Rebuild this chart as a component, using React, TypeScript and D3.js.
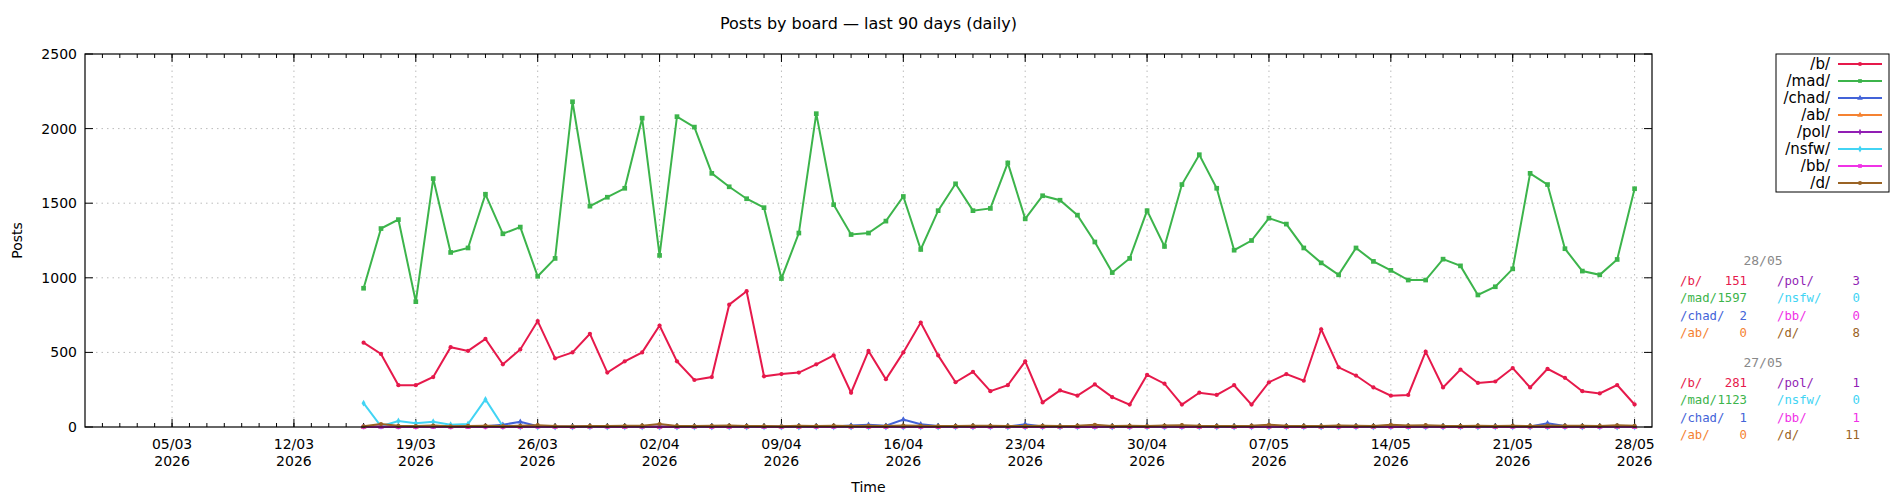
import * as d3 from "d3";

const startDate = new Date(2026, 2, 16);
const domainStart = new Date(2026, 1, 28);
const domainEnd = new Date(2026, 4, 29);

const boards = ["/b/", "/mad/", "/chad/", "/ab/", "/pol/", "/nsfw/", "/bb/", "/d/"];
const colors = ["#e6194b", "#3cb44b", "#4363d8", "#f58231", "#911eb4", "#42d4f4", "#f032e6", "#9a6324"];
const shapes = [d3.symbolCircle, d3.symbolSquare, d3.symbolTriangle, d3.symbolTriangle, d3.symbolCross, d3.symbolDiamond, d3.symbolSquare, d3.symbolCircle];

const bVals = [565, 490, 280, 280, 335, 535, 510, 590, 420, 520, 710, 460, 500, 625, 365, 440, 500, 680, 440, 315, 335, 820, 910, 340, 355, 365, 420, 480, 230, 510, 320, 500, 700, 480, 300, 370, 240, 280, 440, 165, 245, 210, 285, 200, 150, 350, 290, 150, 230, 215, 280, 150, 300, 355, 310, 655, 400, 345, 265, 210, 215, 505, 265, 385, 295, 305, 395, 265, 390, 330, 240, 225, 281, 151];
const madVals = [930, 1330, 1390, 840, 1665, 1170, 1200, 1560, 1295, 1340, 1010, 1130, 2180, 1480, 1540, 1600, 2070, 1150, 2080, 2010, 1700, 1610, 1530, 1470, 995, 1300, 2100, 1490, 1290, 1300, 1380, 1545, 1190, 1450, 1630, 1450, 1465, 1770, 1395, 1550, 1520, 1420, 1240, 1035, 1130, 1450, 1210, 1625, 1825, 1600, 1185, 1250, 1400, 1360, 1200, 1100, 1020, 1200, 1110, 1050, 985, 985, 1125, 1080, 885, 940, 1060, 1700, 1625, 1195, 1045, 1020, 1123, 1597];
const chadVals = [2, 1, 3, 2, 1, 2, 3, 5, 15, 35, 5, 2, 1, 3, 2, 1, 2, 3, 1, 2, 4, 2, 3, 1, 2, 5, 4, 3, 10, 15, 8, 50, 18, 6, 4, 3, 2, 3, 18, 4, 3, 2, 1, 3, 2, 4, 2, 3, 5, 4, 3, 6, 8, 4, 3, 2, 4, 5, 3, 6, 4, 3, 5, 2, 4, 3, 2, 4, 25, 6, 3, 2, 1, 2];
const abVals = [0, 2, 1, 0, 3, 1, 0, 2, 1, 0, 2, 1, 0, 1, 2, 0, 1, 0, 2, 1, 0, 1, 0, 2, 1, 0, 1, 2, 0, 1, 0, 2, 1, 0, 1, 0, 2, 1, 0, 1, 0, 2, 1, 0, 1, 0, 2, 1, 0, 1, 0, 2, 1, 0, 1, 0, 2, 1, 0, 1, 0, 2, 1, 0, 1, 0, 2, 1, 0, 1, 0, 2, 0, 0];
const polVals = [2, 3, 1, 2, 4, 2, 3, 1, 2, 3, 4, 2, 1, 3, 2, 4, 3, 2, 1, 3, 2, 4, 2, 3, 1, 2, 3, 4, 2, 3, 1, 2, 3, 2, 4, 2, 3, 1, 2, 3, 2, 4, 3, 2, 1, 3, 2, 4, 3, 2, 1, 3, 2, 4, 3, 2, 1, 3, 2, 4, 3, 2, 1, 3, 2, 4, 3, 2, 1, 3, 2, 4, 1, 3];
const nsfwVals = [160, 5, 40, 25, 35, 15, 20, 185, 5, 0, 0, 0, 0, 0, 0, 0, 0, 0, 0, 0, 0, 0, 0, 0, 0, 0, 0, 0, 0, 0, 0, 0, 0, 0, 0, 0, 0, 0, 0, 0, 0, 0, 0, 0, 0, 0, 0, 0, 0, 0, 0, 0, 0, 0, 0, 0, 0, 0, 0, 0, 0, 0, 0, 0, 0, 0, 0, 0, 0, 0, 0, 0, 0, 0];
const bbVals = [0, 1, 0, 0, 1, 0, 0, 1, 0, 0, 1, 0, 0, 1, 0, 0, 1, 0, 0, 1, 0, 0, 1, 0, 0, 1, 0, 0, 1, 0, 0, 1, 0, 0, 1, 0, 0, 1, 0, 0, 1, 0, 0, 1, 0, 0, 1, 0, 0, 1, 0, 0, 1, 0, 0, 1, 0, 0, 1, 0, 0, 1, 0, 0, 1, 0, 0, 1, 0, 0, 1, 0, 1, 0];
const dVals = [5, 20, 8, 6, 10, 5, 7, 9, 6, 8, 12, 6, 5, 7, 6, 8, 9, 20, 7, 6, 8, 10, 7, 6, 5, 8, 7, 9, 6, 8, 7, 10, 8, 6, 7, 9, 8, 6, 7, 8, 6, 9, 15, 7, 8, 6, 10, 12, 8, 7, 6, 9, 15, 8, 7, 6, 10, 8, 7, 15, 10, 12, 8, 7, 9, 6, 8, 7, 10, 9, 8, 7, 11, 8];
const series = [bVals, madVals, chadVals, abVals, polVals, nsfwVals, bbVals, dVals];

const yTicks = [0, 500, 1000, 1500, 2000, 2500];
const summaries = [
  { date: "28/05", idx: 73 },
  { date: "27/05", idx: 72 },
];

const W = 1900, H = 500;
const m = { left: 85, right: 1652, top: 54, bottom: 427 };

export default function App() {
  const x = d3.scaleTime().domain([domainStart, domainEnd]).range([m.left, m.right]);
  const y = d3.scaleLinear().domain([0, 2500]).range([m.bottom, m.top]);
  const dates = bVals.map((_, i) => d3.timeDay.offset(startDate, i));
  const days = d3.timeDay.range(d3.timeDay.offset(domainStart, 1), domainEnd);
  const weeks = d3.timeDay.range(new Date(2026, 2, 5), d3.timeDay.offset(domainEnd, 1), 7);
  const fmtD = d3.timeFormat("%d/%m");
  const line = d3.line<number>().x((_, i) => x(dates[i])).y((v) => y(v));
  const font = "DejaVu Sans, sans-serif";
  const mono = "DejaVu Sans Mono, monospace";

  return (
    <svg width={W} height={H} style={{ position: "absolute", left: 0, top: 0, background: "#fff" }} fontFamily={font}>
      <text x={(m.left + m.right) / 2} y={29} textAnchor="middle" fontSize={16}>Posts by board — last 90 days (daily)</text>
      {weeks.map((d) => (
        <line key={+d} x1={x(d)} x2={x(d)} y1={m.top} y2={m.bottom} stroke="#bbb" strokeDasharray="1.5,4" />
      ))}
      {yTicks.slice(1, -1).map((t) => (
        <line key={t} x1={m.left} x2={m.right} y1={y(t)} y2={y(t)} stroke="#bbb" strokeDasharray="1.5,4" />
      ))}
      {days.map((d) => (
        <g key={+d} stroke="#000">
          <line x1={x(d)} x2={x(d)} y1={m.bottom} y2={m.bottom - 4} />
          <line x1={x(d)} x2={x(d)} y1={m.top} y2={m.top + 4} />
        </g>
      ))}
      {weeks.map((d) => (
        <g key={+d}>
          <line x1={x(d)} x2={x(d)} y1={m.bottom} y2={m.bottom - 8} stroke="#000" />
          <line x1={x(d)} x2={x(d)} y1={m.top} y2={m.top + 8} stroke="#000" />
          <text x={x(d)} y={449} textAnchor="middle" fontSize={14}>{fmtD(d)}</text>
          <text x={x(d)} y={466} textAnchor="middle" fontSize={14}>2026</text>
        </g>
      ))}
      {yTicks.map((t) => (
        <g key={t}>
          <line x1={m.left} x2={m.left + 8} y1={y(t)} y2={y(t)} stroke="#000" />
          <line x1={m.right} x2={m.right - 8} y1={y(t)} y2={y(t)} stroke="#000" />
          <text x={m.left - 8} y={y(t) + 5} textAnchor="end" fontSize={14}>{t}</text>
        </g>
      ))}
      <text transform={`translate(22,${(m.top + m.bottom) / 2}) rotate(-90)`} textAnchor="middle" fontSize={14}>Posts</text>
      <text x={(m.left + m.right) / 2} y={492} textAnchor="middle" fontSize={14}>Time</text>
      {series.map((s, k) => (
        <g key={k}>
          <path d={line(s) ?? ""} fill="none" stroke={colors[k]} strokeWidth={2} />
          {s.map((v, i) => (
            <path key={i} transform={`translate(${x(dates[i])},${y(v)})`} d={d3.symbol(shapes[k], k === 1 ? 22 : 14)() ?? ""} fill={colors[k]} />
          ))}
        </g>
      ))}
      <rect x={m.left} y={m.top} width={m.right - m.left} height={m.bottom - m.top} fill="none" stroke="#000" strokeWidth={1.2} />
      <rect x={1776} y={54} width={113} height={138} fill="#fff" stroke="#000" />
      {boards.map((b, k) => (
        <g key={b} transform={`translate(0,${64 + k * 17})`}>
          <text x={1830} y={5} textAnchor="end" fontSize={15}>{b}</text>
          <line x1={1838} x2={1882} stroke={colors[k]} strokeWidth={2} />
          <path transform="translate(1860,0)" d={d3.symbol(shapes[k], 14)() ?? ""} fill={colors[k]} />
        </g>
      ))}
      {summaries.map((sm, j) => (
        <g key={sm.date} transform={`translate(0,${j * 102})`} fontFamily={mono} fontSize={12.3}>
          <text x={1763} y={265} textAnchor="middle" fill="#888" fontSize={13}>{sm.date}</text>
          {boards.map((b, k) => {
            const col = k < 4 ? 0 : 1;
            const row = k % 4;
            const yy = 285 + row * 17.3;
            const nx = col === 0 ? 1680 : 1777;
            const vx = col === 0 ? 1747 : 1860;
            return (
              <g key={b} fill={colors[k]}>
                <text x={nx} y={yy}>{b}</text>
                <text x={vx} y={yy} textAnchor="end">{series[k][sm.idx]}</text>
              </g>
            );
          })}
        </g>
      ))}
    </svg>
  );
}
